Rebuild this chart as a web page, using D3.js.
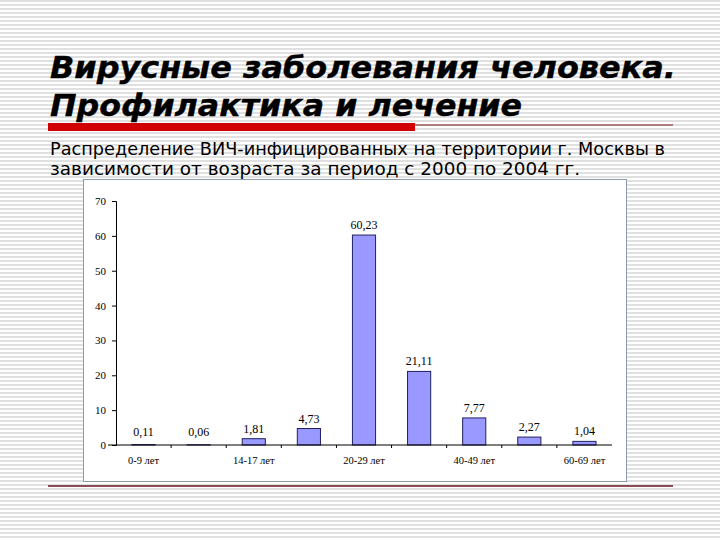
<!DOCTYPE html>
<html>
<head>
<meta charset="utf-8">
<script src="https://cdn.jsdelivr.net/npm/d3@7"></script>
<style>
  body { margin: 0; background: #fff; }
  svg { display: block; }
</style>
</head>
<body>
<svg width="720" height="540"></svg>
<script>
var ageGroups = ["0-9 лет", "10-13 лет", "14-17 лет", "18-19 лет", "20-29 лет", "30-39 лет", "40-49 лет", "50-59 лет", "60-69 лет"];
var shares = [0.11, 0.06, 1.81, 4.73, 60.23, 21.11, 7.77, 2.27, 1.04];
var yTicks = [0, 10, 20, 30, 40, 50, 60, 70];
var titleLines = ["Вирусные заболевания человека.", "Профилактика и лечение"];
var subtitleLines = ["Распределение ВИЧ-инфицированных на территории г. Москвы в",
                     "зависимости от возраста за период с 2000 по 2004 гг."];

var svg = d3.select("svg");

// striped slide background
svg.append("g").selectAll("rect")
    .data(d3.range(0, 540, 4))
    .enter().append("rect")
    .attr("x", 0).attr("y", function (d) { return d; })
    .attr("width", 720).attr("height", 2)
    .attr("fill", "#e0e0e0");

// title
svg.append("g").selectAll("text")
    .data(titleLines)
    .enter().append("text")
    .attr("x", 50)
    .attr("y", function (d, i) { return 78 + i * 38; })
    .attr("font-family", "DejaVu Sans")
    .attr("font-weight", "bold")
    .attr("font-style", "italic")
    .attr("font-size", 31)
    .attr("textLength", function (d, i) { return i === 0 ? 626 : 472; })
    .attr("lengthAdjust", "spacingAndGlyphs")
    .attr("stroke", "#000").attr("stroke-width", 0.4)
    .attr("fill", "#000")
    .text(function (d) { return d; });

// red rule under title
svg.append("rect").attr("x", 48).attr("y", 123).attr("width", 367).attr("height", 8).attr("fill", "#d00000");
svg.append("line").attr("x1", 415).attr("x2", 673).attr("y1", 125).attr("y2", 125)
    .attr("stroke", "#7a1a1a").attr("stroke-width", 1.2);

// subtitle
svg.append("g").selectAll("text")
    .data(subtitleLines)
    .enter().append("text")
    .attr("x", 50)
    .attr("y", function (d, i) { return 155 + i * 20; })
    .attr("font-family", "DejaVu Sans")
    .attr("font-size", 18)
    .attr("textLength", function (d, i) { return i === 0 ? 615 : 530; })
    .attr("lengthAdjust", "spacingAndGlyphs")
    .attr("fill", "#000")
    .text(function (d) { return d; });

// chart box
svg.append("rect").attr("x", 83.5).attr("y", 179.5).attr("width", 543).attr("height", 302)
    .attr("fill", "#fff").attr("stroke", "#8d9bb0").attr("stroke-width", 1);

// bottom rule
svg.append("line").attr("x1", 48).attr("x2", 673).attr("y1", 486).attr("y2", 486)
    .attr("stroke", "#6b1525").attr("stroke-width", 1.5);

var x = d3.scaleBand().domain(ageGroups).range([116, 612]).paddingInner(0.58).paddingOuter(0.29);
var band = d3.scaleBand().domain(ageGroups).range([116, 612]);
var y = d3.scaleLinear().domain([0, 70]).range([445, 201]);

var chart = svg.append("g");

chart.selectAll("rect.bar")
    .data(shares)
    .enter().append("rect")
    .attr("class", "bar")
    .attr("x", function (d, i) { return x(ageGroups[i]); })
    .attr("width", x.bandwidth())
    .attr("y", function (d) { return y(d); })
    .attr("height", function (d) { return y(0) - y(d); })
    .attr("fill", "#9999ff")
    .attr("stroke", "#202060")
    .attr("stroke-width", 1);

chart.selectAll("text.val")
    .data(shares)
    .enter().append("text")
    .attr("class", "val")
    .attr("x", function (d, i) { return band(ageGroups[i]) + band.bandwidth() / 2; })
    .attr("y", function (d) { return Math.min(y(d), y(0) - 3) - 6; })
    .attr("text-anchor", "middle")
    .attr("font-family", "Liberation Serif")
    .attr("font-size", 12)
    .text(function (d) { return String(d.toFixed(2)).replace(".", ","); });

// y axis
var yAxis = d3.axisLeft(y).tickValues(yTicks).tickSize(4).tickPadding(6);
var gy = chart.append("g").attr("transform", "translate(116,0)").call(yAxis);
gy.select(".domain").attr("stroke", "#000");
gy.selectAll("text").attr("font-family", "Liberation Serif").attr("font-size", 11).attr("fill", "#000");

// x axis
var xAxis = d3.axisBottom(band).tickSize(0).tickPadding(12)
    .tickFormat(function (d, i) { return i % 2 === 0 ? d : ""; });
var gx = chart.append("g").attr("transform", "translate(0,445)").call(xAxis);
gx.select(".domain").remove();
gx.selectAll("text").attr("font-family", "Liberation Serif").attr("font-size", 10.5).attr("fill", "#000");
chart.append("line").attr("x1", 108).attr("x2", 612).attr("y1", 445).attr("y2", 445).attr("stroke", "#000");
chart.selectAll("line.xt")
    .data(ageGroups.slice(1))
    .enter().append("line")
    .attr("class", "xt")
    .attr("x1", function (d) { return band(d); })
    .attr("x2", function (d) { return band(d); })
    .attr("y1", 445).attr("y2", 448)
    .attr("stroke", "#000");
</script>
</body>
</html>
